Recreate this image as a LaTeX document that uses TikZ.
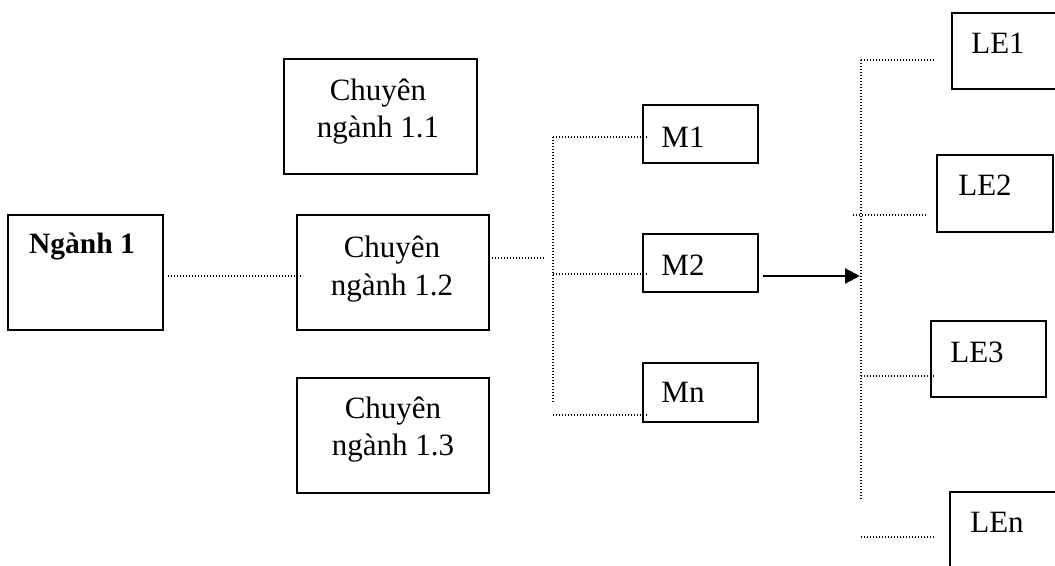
\documentclass[tikz,border=0pt]{standalone}
\usepackage{fontspec}
\setmainfont{Liberation Serif}
\usetikzlibrary{arrows.meta,calc}
\begin{document}
\begin{tikzpicture}[x=1pt,y=-1pt,
  box/.style={draw, line width=1.6pt, inner sep=0pt, outer sep=0pt},
  lbl/.style={anchor=base, inner sep=0pt, font=\fontsize{31}{36}\selectfont},
  blbl/.style={anchor=base, inner sep=0pt, font=\fontsize{29.5}{35}\selectfont\bfseries},
  dotline/.style={line width=1.4pt, dash pattern=on 1.4pt off 1.6pt},
  arr/.style={line width=2.2pt, -{Triangle[length=15pt,width=15pt]}}
]
\useasboundingbox (0,0) rectangle (1055,565);
\clip (0,0) rectangle (1055,565);

% boxes
\node[box, minimum width=155pt, minimum height=115pt] (ng) at (85.5,272.5) {};
\node[box, minimum width=193pt, minimum height=115pt] (c11) at (380.5,116.5) {};
\node[box, minimum width=192pt, minimum height=115pt] (c12) at (393,272.5) {};
\node[box, minimum width=192pt, minimum height=115pt] (c13) at (393,435.5) {};
\node[box, minimum width=115pt, minimum height=58pt] (m1) at (700.5,134) {};
\node[box, minimum width=115pt, minimum height=58pt] (m2) at (700.5,263) {};
\node[box, minimum width=115pt, minimum height=59pt] (mn) at (700.5,392.5) {};
\node[box, minimum width=118pt, minimum height=76pt] (le1) at (1011,51) {};
\node[box, minimum width=116pt, minimum height=77pt] (le2) at (995,193.5) {};
\node[box, minimum width=115pt, minimum height=76pt] (le3) at (988.5,359) {};
\node[box, minimum width=118pt, minimum height=78pt] (len) at (1009,531) {};

% texts
\node[blbl] (tng) at (82,253) {Ngành 1};
\node[lbl] (t11a) at (378,100) {Chuyên};
\node[lbl] (t11b) at (378,137) {ngành 1.1};
\node[lbl] (t12a) at (392,257) {Chuyên};
\node[lbl] (t12b) at (392,295) {ngành 1.2};
\node[lbl] (t13a) at (393,418) {Chuyên};
\node[lbl] (t13b) at (393,455) {ngành 1.3};
\node[lbl] (tm1) at (683,147) {M1};
\node[lbl] (tm2) at (683,275) {M2};
\node[lbl] (tmn) at (683,402) {Mn};
\node[lbl] (tle1) at (998,53) {LE1};
\node[lbl] (tle2) at (985,195) {LE2};
\node[lbl] (tle3) at (977,362) {LE3};
\node[lbl] (tlen) at (997,532) {LEn};

% dotted connectors, left part
\draw[dotline] ($(ng.east)+(5,3.5)$) -- ($(c12.west)+(6,3.5)$);
\coordinate (cj) at ($(c12.east)+(56,-14.5)$);
\draw[dotline] ($(c12.east)+(0,-14.5)$) -- (cj);
\coordinate (mb1) at ($(m1.west)+(-90,3)$);
\coordinate (mb2) at ($(mn.west)+(-90,10.5)$);
\draw[dotline] (mb1) -- (mb2);
\draw[dotline] (mb1) -- ($(m1.west)+(5,3)$);
\draw[dotline] (mb1 |- 0,274) -- ($(m2.west)+(5,11)$);
\draw[dotline] ($(mn.west)+(-90,22.5)$) -- ($(mn.west)+(5,22.5)$);

% arrow
\coordinate (ah) at (860,276);
\draw[arr] ($(m2.east)+(5,13)$) -- (ah);

% right bus
\coordinate (rb1) at ($(le1.west)+(-91,9)$);
\coordinate (rb2) at (rb1 |- 0,499);
\draw[dotline] (rb1) -- (rb2);
\draw[dotline] (rb1) -- ($(le1.west)+(-18,9)$);
\draw[dotline] ($(le2.west)+(-84,21.5)$) -- ($(le2.west)+(-10,21.5)$);
\draw[dotline] ($(le3.west)+(-70,17)$) -- ($(le3.west)+(3,17)$);
\draw[dotline] ($(len.west)+(-89,6)$) -- ($(len.west)+(-16,6)$);
\end{tikzpicture}
\end{document}
